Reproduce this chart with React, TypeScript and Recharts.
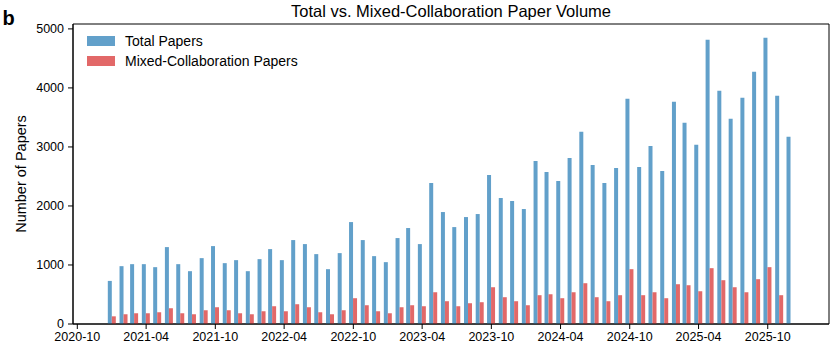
import React from 'react';
import { BarChart, Bar, XAxis, YAxis, Legend, ReferenceArea } from 'recharts';

const months = [
  '2021-01', '2021-02', '2021-03', '2021-04', '2021-05', '2021-06', '2021-07', '2021-08', '2021-09', '2021-10', '2021-11', '2021-12',
  '2022-01', '2022-02', '2022-03', '2022-04', '2022-05', '2022-06', '2022-07', '2022-08', '2022-09', '2022-10', '2022-11', '2022-12',
  '2023-01', '2023-02', '2023-03', '2023-04', '2023-05', '2023-06', '2023-07', '2023-08', '2023-09', '2023-10', '2023-11', '2023-12',
  '2024-01', '2024-02', '2024-03', '2024-04', '2024-05', '2024-06', '2024-07', '2024-08', '2024-09', '2024-10', '2024-11', '2024-12',
  '2025-01', '2025-02', '2025-03', '2025-04', '2025-05', '2025-06', '2025-07', '2025-08', '2025-09', '2025-10', '2025-11', '2025-12',
];

const totalPapers = [
  730, 980, 1014, 1014, 963, 1303, 1014, 895, 1116, 1320, 1031, 1082,
  895, 1099, 1269, 1082, 1422, 1354, 1184, 929, 1201, 1727, 1422, 1150,
  1048, 1456, 1626, 1354, 2389, 1897, 1642, 1812, 1863, 2525, 2135, 2084,
  1948, 2763, 2576, 2423, 2814, 3256, 2695, 2389, 2644, 3817, 2661, 3018,
  2593, 3766, 3410, 3035, 4818, 3953, 3477, 3834, 4276, 4852, 3868, 3171,
];

const mixedPapers = [
  130, 165, 182, 182, 199, 267, 182, 165, 233, 284, 233, 182,
  165, 216, 301, 216, 335, 284, 199, 165, 233, 437, 318, 216,
  182, 284, 318, 301, 538, 386, 301, 352, 369, 623, 454, 386,
  318, 488, 504, 437, 538, 691, 454, 386, 488, 929, 488, 538,
  437, 674, 657, 555, 946, 742, 623, 538, 759, 963, 488, 0,
];

const xTickLabels = ['2020-10', '2021-04', '2021-10', '2022-04', '2022-10', '2023-04', '2023-10', '2024-04', '2024-10', '2025-04', '2025-10'];
const yTicks = [0, 1000, 2000, 3000, 4000, 5000];

const seriesNames = ['Total Papers', 'Mixed-Collaboration Papers'];
const TITLE = 'Total vs. Mixed-Collaboration Paper Volume';
const Y_LABEL = 'Number of Papers';
const PANEL = 'b';

const BLUE = '#62A0CA';
const RED = '#E26868';
const FONT = '"Liberation Sans", Arial, Helvetica, sans-serif';

const toDay = (ym: string) => {
  const [y, m] = ym.split('-').map(Number);
  return Date.UTC(y, m - 1, 1) / 86400000;
};
const fromDay = (d: number) => {
  const dt = new Date(Math.round(d) * 86400000);
  return `${dt.getUTCFullYear()}-${String(dt.getUTCMonth() + 1).padStart(2, '0')}`;
};

const data = months.map((m, i) => ({ t: toDay(m), total: totalPapers[i], mixed: mixedPapers[i] }));
const xTicks = xTickLabels.map(toDay);
const X_MIN = toDay('2020-10') - 11.4;
const X_MAX = toDay('2025-10') + 162;
const Y_MAX = 5083;

const renderLegend = (props: any) => {
  const payload = [...(props.payload || [])].sort(
    (a: any, b: any) => seriesNames.indexOf(a.value) - seriesNames.indexOf(b.value)
  );
  return (
    <div style={{ fontFamily: FONT, fontSize: 14, color: '#000' }}>
      {payload.map((p: any) => (
        <div key={p.value} style={{ display: 'flex', alignItems: 'center', height: 20 }}>
          <div style={{ width: 28, height: 10, background: p.color, marginRight: 10 }} />
          <span style={{ whiteSpace: 'nowrap' }}>{p.value}</span>
        </div>
      ))}
    </div>
  );
};

export default function App() {
  return (
    <div style={{ position: 'absolute', left: 0, top: 0, width: 840, height: 349, background: '#fff' }}>
      <BarChart
        width={840}
        height={349}
        data={data}
        margin={{ top: 24, right: 11, bottom: 0, left: 0 }}
        barGap={0}
        barCategoryGap={0}
      >
        <XAxis
          dataKey="t"
          type="number"
          domain={[X_MIN, X_MAX]}
          allowDataOverflow
          ticks={xTicks}
          interval={0}
          tickFormatter={fromDay}
          height={25}
          tickSize={5}
          tickMargin={3}
          axisLine={{ stroke: '#000', strokeWidth: 1 }}
          tickLine={{ stroke: '#000', strokeWidth: 1 }}
          tick={{ fill: '#000', fontSize: 12.5, fontFamily: FONT }}
        />
        <YAxis
          type="number"
          domain={[0, Y_MAX]}
          allowDataOverflow
          ticks={yTicks}
          interval={0}
          width={73}
          tickSize={5}
          tickMargin={4}
          axisLine={{ stroke: '#000', strokeWidth: 1 }}
          tickLine={{ stroke: '#000', strokeWidth: 1 }}
          tick={{ fill: '#000', fontSize: 12.5, fontFamily: FONT }}
        />
        <ReferenceArea x1={X_MIN} x2={X_MAX} y1={0} y2={Y_MAX} fill="none" stroke="#000" strokeWidth={1} ifOverflow="visible" />
        <Bar dataKey="total" name={seriesNames[0]} fill={BLUE} barSize={4} isAnimationActive={false} />
        <Bar dataKey="mixed" name={seriesNames[1]} fill={RED} barSize={4} isAnimationActive={false} />
        <Legend
          layout="vertical"
          align="center"
          verticalAlign="middle"
          content={renderLegend}
          wrapperStyle={{ left: 87, top: 31, width: 260, height: 40 }}
        />
      </BarChart>
      <svg width={840} height={349} style={{ position: 'absolute', left: 0, top: 0, pointerEvents: 'none' }}>
        <text x={2.5} y={25} fontFamily={FONT} fontWeight="bold" fontSize={20} fill="#000">{PANEL}</text>
        <text x={451} y={16.5} textAnchor="middle" fontFamily={FONT} fontSize={16.5} fill="#000">{TITLE}</text>
        <text transform="translate(25.5,174) rotate(-90)" textAnchor="middle" fontFamily={FONT} fontSize={14.5} fill="#000">{Y_LABEL}</text>
      </svg>
    </div>
  );
}
